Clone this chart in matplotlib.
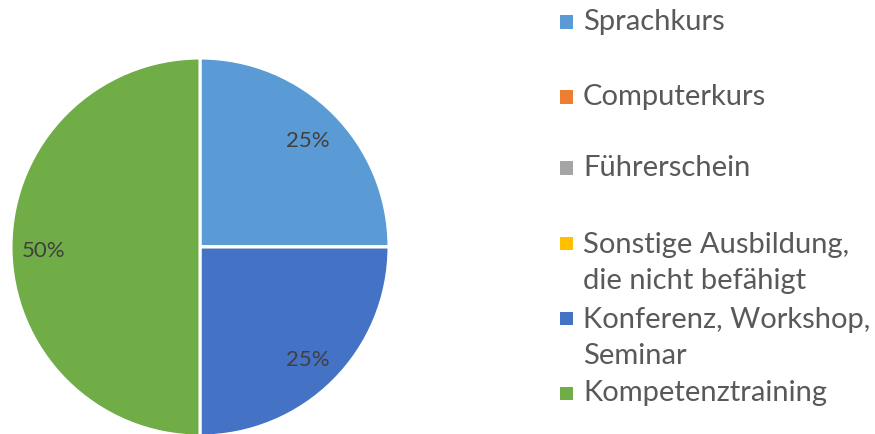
import matplotlib
matplotlib.use("Agg")
import matplotlib.pyplot as plt
from matplotlib.patches import Rectangle
import numpy as np

categories = ["Sprachkurs", "Computerkurs", "Führerschein",
              "Sonstige Ausbildung,\ndie nicht befähigt",
              "Konferenz, Workshop,\nSeminar", "Kompetenztraining"]
values = [25, 0, 0, 0, 25, 50]
colors = ["#5B9BD5", "#ED7D31", "#A5A5A5", "#FFC000", "#4472C4", "#70AD47"]

plt.rcParams['font.family'] = ['Lato', 'DejaVu Sans']

W, H = 875, 434
fig = plt.figure(figsize=(W / 100, H / 100), dpi=100)
cx, cy, r = 200, 247, 189
ax = fig.add_axes([(cx - r) / W, (H - cy - r) / H, 2 * r / W, 2 * r / H])
wedges, _ = ax.pie(values, colors=colors, startangle=90, counterclock=False,
                   radius=1, wedgeprops=dict(edgecolor="white", linewidth=2.2))
ax.set_xlim(-1, 1)
ax.set_ylim(-1, 1)
ax.set_aspect("equal")
ax.axis("off")

total = sum(values)
for w, v in zip(wedges, values):
    if v == 0:
        continue
    ang = np.deg2rad((w.theta1 + w.theta2) / 2)
    d = 0.82
    ax.text(d * np.cos(ang) - 0.01, d * np.sin(ang) - 0.02, f"{v / total * 100:.0f}%",
            ha="center", va="center", fontsize=16, color="#404040")

# legend
ys = [22, 97, 168, 263, 338, 393]
for lab, col, y in zip(categories, colors, ys):
    nlines = lab.count("\n") + 1
    ytop = y - (nlines - 1) * 19.5
    fig.patches.append(Rectangle((560 / W, 1 - (ytop + 6.5) / H), 13 / W, 13 / H,
                                 transform=fig.transFigure, facecolor=col,
                                 edgecolor="none"))
    fig.text(583 / W, 1 - y / H, lab, ha="left", va="center", fontsize=21,
             color="#595959", linespacing=1.5)

fig.savefig("out.png", dpi=100)
